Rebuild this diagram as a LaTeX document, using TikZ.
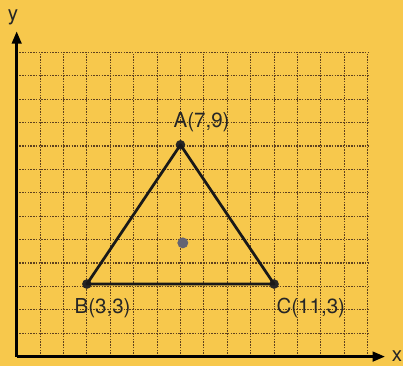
\documentclass[tikz,border=0pt]{standalone}
\usepackage{fontspec}
\setmainfont{TeX Gyre Heros}
\usetikzlibrary{arrows.meta}
\definecolor{bgyellow}{RGB}{247,200,76}
\definecolor{gridbrown}{RGB}{95,65,30}
\definecolor{dotgray}{RGB}{100,100,115}
\tikzset{
  gridline/.style={gridbrown, line width=0.8pt, dash pattern=on 1.1pt off 0.9pt},
  axisline/.style={black, line width=1.8pt, -{Triangle[length=9pt,width=7pt]}},
  sideline/.style={black!90, line width=2pt, line join=round},
  vertex/.style={circle, fill=black!85, inner sep=0pt, minimum size=7pt},
  centre/.style={circle, fill=dotgray, inner sep=0pt, minimum size=8pt},
  lbl/.style={inner sep=0pt, text=black!85, font=\fontsize{15}{18}\selectfont}
}
\begin{document}
\begin{tikzpicture}[x=0.6cm,y=0.6cm]
\useasboundingbox[fill=bgyellow] (-0.713,-0.397) rectangle (16.51,15.24);
% grid
\foreach \i in {1,...,15} \draw[gridline] (\i,0) -- (\i,13);
\foreach \j in {1,...,13} \draw[gridline] (0,\j) -- (15,\j);
% axes
\coordinate (O) at (0,0);
\coordinate (Xend) at (15.74,0);
\coordinate (Yend) at (0,13.9);
\draw[axisline] (O) -- (Xend);
\draw[axisline] (O) -- (Yend);
\node[lbl] (xl) at (16.25,0.02) {x};
\node[lbl] (yl) at (-0.16,14.5) {y};
% triangle
\node[vertex] (A) at (7,9.05) {};
\node[vertex] (B) at (3,3.1) {};
\node[vertex] (C) at (11,3.1) {};
\draw[sideline] (A.center) -- (B.center) -- (C.center) -- cycle;
\node[centre] (G) at (7.1,4.86) {};
% labels
\node[lbl] (Al) at (7.9,10.0) {A(7,9)};
\node[lbl] (Bl) at (3.67,2.08) {B(3,3)};
\node[lbl] (Cl) at (12.57,2.08) {C(11,3)};
\end{tikzpicture}
\end{document}
